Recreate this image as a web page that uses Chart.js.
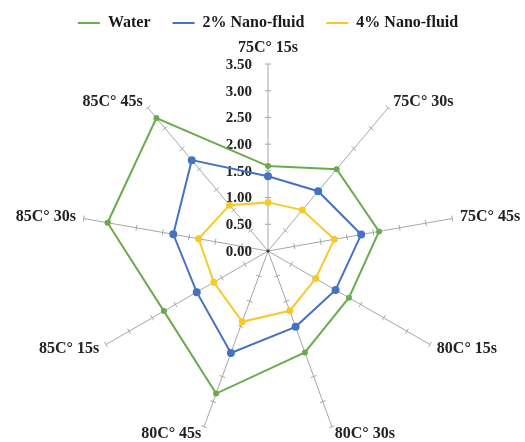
<!DOCTYPE html>
<html>
<head>
<meta charset="utf-8">
<script src="https://cdn.jsdelivr.net/npm/chart.js@4.4.1/dist/chart.umd.min.js"></script>
<style>
	html, body { margin: 0; padding: 0; background: #fff; }
	#box { width: 525px; height: 442px; }
</style>
</head>
<body>
<div id="box"><canvas id="radar_chart"></canvas></div>
<script>
var axis_labels = ['75C° 15s', '75C° 30s', '75C° 45s', '80C° 15s', '80C° 30s', '80C° 45s', '85C° 15s', '85C° 30s', '85C° 45s'];
var water_values = [1.59, 2.00, 2.11, 1.75, 2.02, 2.84, 2.25, 3.05, 3.25];
var nano2_values = [1.40, 1.46, 1.77, 1.46, 1.51, 2.03, 1.54, 1.80, 2.22];
var nano4_values = [0.91, 1.00, 1.26, 1.03, 1.19, 1.41, 1.17, 1.32, 1.12];
var series_names = ['Water', '2% Nano-fluid', '4% Nano-fluid'];
var series_colors = ['#6aab4f', '#4472c4', '#f7c928'];

var serif_font = '"Liberation Serif", "Times New Roman", serif';

// make the legend block reach down to where the radar starts
var legend_room = {
	id: 'legend_room',
	beforeLayout: function(chart)
	{
		var lg = chart.legend;
		if (!lg || lg._patched) return;
		var fit = lg.fit;
		lg.fit = function()
		{
			fit.call(this);
			this.height = 71;
		};
		lg._patched = true;
	}
};

// tick labels, spoke tick marks and axis names, drawn from the radial scale
var radar_extras = {
	id: 'radar_extras',
	beforeDatasetsDraw: function(chart)
	{
		var scale = chart.scales.r;
		var ctx = chart.ctx;
		ctx.save();
		// small marks on every spoke
		ctx.strokeStyle = '#a6a6a6';
		ctx.lineWidth = 1;
		for (var i = 0; i < axis_labels.length; i++)
		{
			var a = scale.getIndexAngle(i) - Math.PI / 2;
			var px = -Math.sin(a), py = Math.cos(a);
			scale.ticks.forEach(function(t)
			{
				if (t.value <= 0) return;
				var p = scale.getPointPositionForValue(i, t.value);
				ctx.beginPath();
				ctx.moveTo(p.x - px * 3, p.y - py * 3);
				ctx.lineTo(p.x + px * 3, p.y + py * 3);
				ctx.stroke();
			});
		}
		// value labels left of the vertical spoke
		ctx.fillStyle = '#222';
		ctx.font = 'bold 15px ' + serif_font;
		ctx.textAlign = 'right';
		ctx.textBaseline = 'middle';
		scale.ticks.forEach(function(t)
		{
			var p = scale.getPointPositionForValue(0, t.value);
			ctx.fillText(t.value.toFixed(2), p.x - 16, p.y + 1);
		});
		// axis names
		ctx.font = 'bold 16px ' + serif_font;
		for (var j = 0; j < axis_labels.length; j++)
		{
			var ang = scale.getIndexAngle(j);
			var s = Math.sin(ang);
			var pos = scale.getPointPosition(j, scale.drawingArea + 8);
			if (Math.abs(s) < 0.1)
			{
				ctx.textAlign = 'center';
				ctx.textBaseline = 'bottom';
			}
			else
			{
				ctx.textAlign = s > 0 ? 'left' : 'right';
				ctx.textBaseline = 'middle';
			}
			ctx.fillText(axis_labels[j], pos.x, pos.y);
		}
		// dot at the centre
		var c = scale.getPointPositionForValue(0, 0);
		ctx.fillStyle = '#333';
		ctx.beginPath();
		ctx.arc(c.x, c.y, 1.5, 0, Math.PI * 2);
		ctx.fill();
		ctx.restore();
	}
};

var all_values = [water_values, nano2_values, nano4_values];
var point_sizes = [2, 3, 2.5];
var datasets = [];
for (var k = 0; k < all_values.length; k++)
{
	datasets.push({
		label: series_names[k],
		data: all_values[k],
		borderColor: series_colors[k],
		backgroundColor: series_colors[k],
		pointBackgroundColor: series_colors[k],
		pointBorderColor: series_colors[k],
		pointRadius: point_sizes[k],
		borderWidth: 2,
		fill: false
	});
}

var ctx = document.getElementById('radar_chart').getContext('2d');
var radar = new Chart(ctx, {
	type: 'radar',
	data: { labels: axis_labels, datasets: datasets },
	options: {
		responsive: true,
		maintainAspectRatio: false,
		animation: false,
		layout: { padding: { left: 11, right: 0, top: -7, bottom: 3 } },
		plugins: {
			legend: {
				position: 'top',
				labels: {
					usePointStyle: true,
					pointStyle: 'line',
					pointStyleWidth: 22,
					boxHeight: 16,
					padding: 22,
					color: '#1a1a1a',
					font: { family: serif_font, size: 16, weight: 'bold' }
				}
			},
			tooltip: { enabled: false }
		},
		scales: {
			r: {
				min: 0,
				max: 3.5,
				ticks: { stepSize: 0.5, display: false },
				grid: { display: false },
				angleLines: { display: true, color: '#a6a6a6', lineWidth: 1 },
				pointLabels: { display: false }
			}
		}
	},
	plugins: [legend_room, radar_extras]
});
</script>
</body>
</html>
